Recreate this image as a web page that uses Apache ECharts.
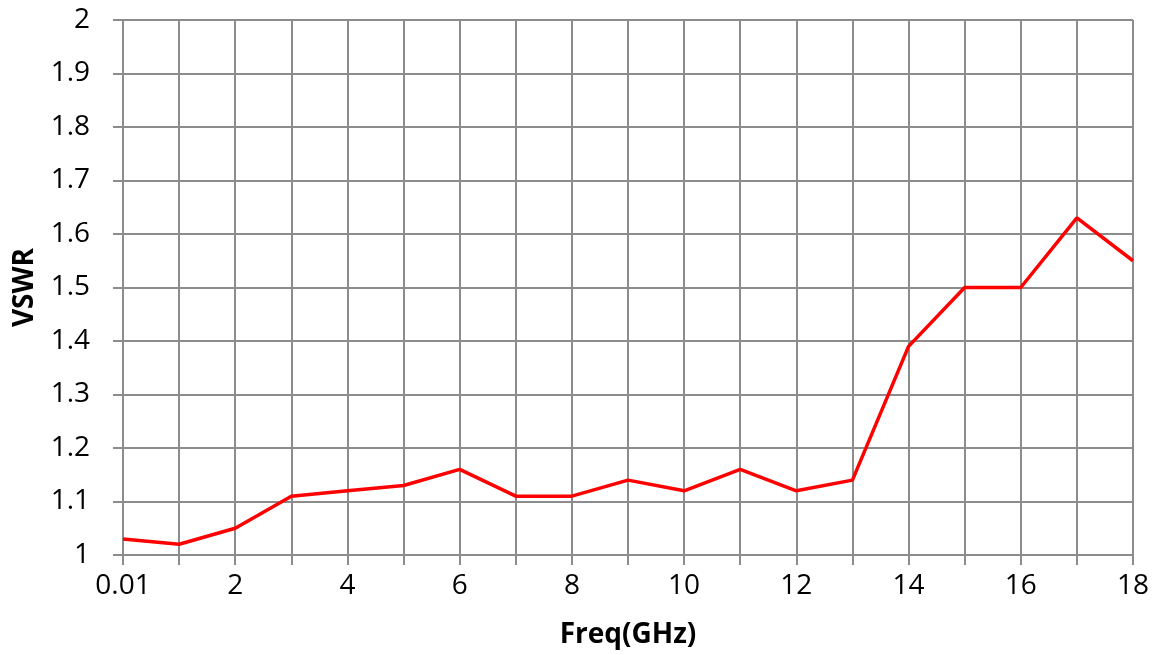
<!DOCTYPE html>
<html>
<head>
<meta charset="utf-8">
<script src="https://cdn.jsdelivr.net/npm/echarts@6/dist/echarts.min.js"></script>
<style>html,body{margin:0;padding:0;background:#fff}#c{width:1159px;height:655px}</style>
</head>
<body>
<div id="c"></div>
<script>
const categories = ['0.01','1','2','3','4','5','6','7','8','9','10','11','12','13','14','15','16','17','18'];
const vswr = [1.03,1.02,1.05,1.11,1.12,1.13,1.16,1.11,1.11,1.14,1.12,1.16,1.12,1.14,1.39,1.50,1.50,1.63,1.55];
const yMin = 1, yMax = 2, yStep = 0.1;

const chart = echarts.init(document.getElementById('c'));
const gridLine = {color:'#8c8c8c', width:2};
chart.setOption({
  animation:false,
  grid:{left:123, right:26, top:20, bottom:100, containLabel:false},
  xAxis:{
    type:'category', data:categories, boundaryGap:false,
    name:'Freq(GHz)', nameLocation:'middle', nameGap:66,
    nameTextStyle:{fontFamily:'Open Sans', fontWeight:'bold', fontSize:28, color:'#000'},
    axisLine:{show:true, lineStyle:gridLine},
    axisTick:{show:true, interval:0, length:10, lineStyle:gridLine},
    axisLabel:{interval:1, margin:17, fontFamily:'Open Sans', fontSize:28, color:'#000'},
    splitLine:{show:true, interval:0, lineStyle:gridLine}
  },
  yAxis:{
    type:'value', min:yMin, max:yMax, interval:yStep,
    name:'VSWR', nameLocation:'middle', nameGap:84,
    nameTextStyle:{fontFamily:'Open Sans', fontWeight:'bold', fontSize:28, color:'#000'},
    axisLine:{show:true, lineStyle:gridLine},
    axisTick:{show:true, length:10, lineStyle:gridLine},
    axisLabel:{margin:33, fontFamily:'Open Sans', fontSize:28, color:'#000',
      formatter:v=>String(Math.round(v*10)/10)},
    splitLine:{show:true, lineStyle:gridLine}
  },
  series:[{
    type:'line', data:vswr, symbol:'none',
    lineStyle:{color:'#ff0000', width:3.5}
  }]
});
</script>
</body>
</html>
